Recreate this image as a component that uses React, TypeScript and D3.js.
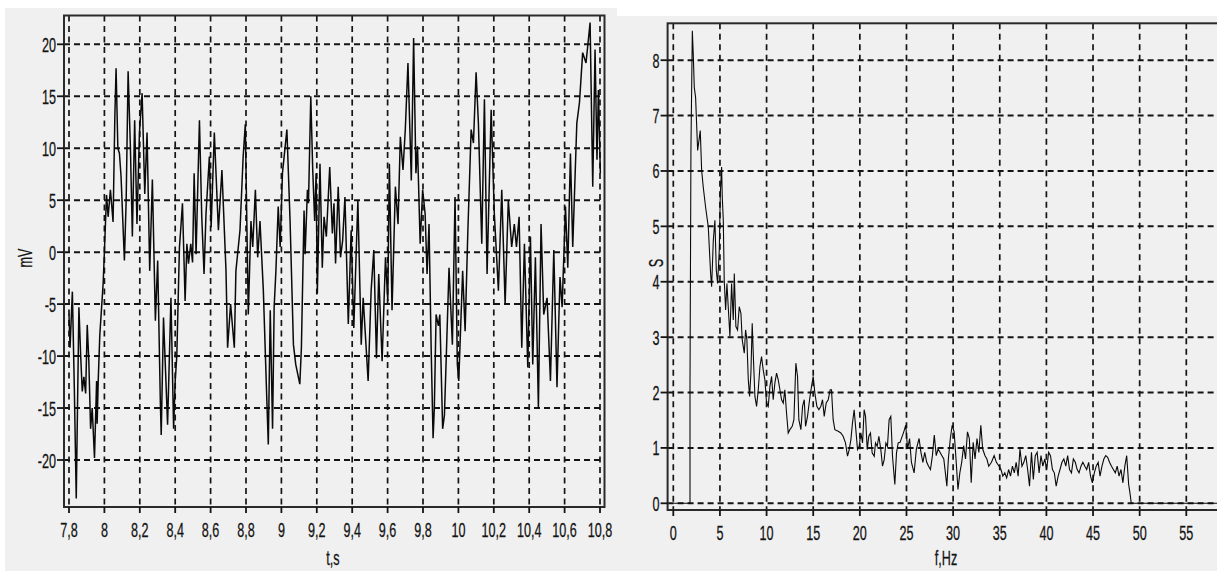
import React from 'react';
import * as d3 from 'd3';

// ---------- Data ----------
const timeS = [
  7.800, 7.806, 7.819, 7.830, 7.841, 7.848, 7.856, 7.866, 7.875, 7.884, 7.894, 7.903, 7.912, 7.922, 7.931, 7.944,
  7.956, 7.959, 7.965, 7.974, 7.993, 8.001, 8.012, 8.021, 8.034, 8.049, 8.059, 8.066, 8.076, 8.085, 8.094, 8.113,
  8.123, 8.134, 8.147, 8.158, 8.171, 8.184, 8.198, 8.213, 8.228, 8.241, 8.256, 8.271, 8.288, 8.301, 8.316, 8.321,
  8.334, 8.357, 8.376, 8.391, 8.400, 8.409, 8.424, 8.432, 8.441, 8.456, 8.466, 8.475, 8.488, 8.498, 8.507, 8.518,
  8.537, 8.550, 8.563, 8.574, 8.593, 8.603, 8.621, 8.644, 8.664, 8.687, 8.696, 8.713, 8.734, 8.743, 8.766, 8.784,
  8.796, 8.813, 8.828, 8.838, 8.853, 8.866, 8.879, 8.898, 8.918, 8.926, 8.937, 8.950, 8.959, 8.969, 8.982, 8.993,
  9.006, 9.031, 9.049, 9.068, 9.081, 9.104, 9.113, 9.128, 9.134, 9.147, 9.153, 9.166, 9.177, 9.188, 9.196, 9.203,
  9.218, 9.231, 9.241, 9.254, 9.273, 9.288, 9.297, 9.306, 9.321, 9.334, 9.346, 9.359, 9.378, 9.394, 9.409, 9.432,
  9.451, 9.462, 9.490, 9.507, 9.522, 9.537, 9.550, 9.569, 9.588, 9.601, 9.610, 9.625, 9.644, 9.659, 9.672, 9.687,
  9.700, 9.715, 9.734, 9.747, 9.760, 9.769, 9.784, 9.798,
  9.812, 9.823, 9.834, 9.846, 9.857, 9.864, 9.874, 9.887, 9.895, 9.911, 9.921, 9.932, 9.947, 9.966, 9.981, 9.994,
  10.002, 10.024, 10.038, 10.053, 10.072, 10.085, 10.100, 10.113, 10.132, 10.147, 10.162, 10.185, 10.203, 10.226,
  10.245, 10.264, 10.282, 10.301, 10.316, 10.328, 10.343, 10.358, 10.373, 10.392, 10.407, 10.420, 10.435, 10.452,
  10.467, 10.482, 10.501, 10.520, 10.539, 10.557, 10.574, 10.586, 10.605, 10.618, 10.633, 10.646, 10.669, 10.684,
  10.702, 10.721, 10.744, 10.759, 10.772, 10.783, 10.791, 10.802,
];
const voltageMV = [
  -6.0, -9.2, -3.8, -13.0, -23.7, -15.0, -5.3, -10.0, -13.4, -12.0, -13.6, -7.0, -10.5, -17.0, -15.0, -19.8,
  -12.4, -16.5, -12.4, -8.0, -3.0, 0.5, 5.5, 3.4, 6.0, 2.9, 13.0, 17.7, 10.0, 9.5, 7.3, -0.8,
  5.0, 17.4, 10.0, 1.5, 12.7, 2.7, 11.5, 15.3, 5.6, 11.5, -1.8, 7.0, -6.6, -0.8, -14.4, -17.6,
  -6.3, -16.6, -4.4, -17.0, -12.4, -10.0, 0.5, 2.4, 4.7, -4.7, 0.8, -1.1, 0.8, -1.0, 7.6, -0.2,
  12.7, 3.4, -2.1, 3.7, 9.2, 2.4, 11.5, 2.1, 7.9, -1.8, -9.2, -5.0, -9.2, -1.8, 2.1, 9.2,
  12.3, -6.0, 3.0, 0.5, 6.0, -0.5, 3.0, -3.7, -14.4, -18.5, -5.6, -17.0, -5.3, -1.8, 4.4, 0.5,
  7.6, 11.8, 3.0, -8.9, -10.8, -12.7, -9.2, 4.0, -0.2, 6.0, 4.7, 15.0, 7.9, 3.0, 7.6, -4.0,
  8.5, -1.5, 3.4, 1.5, 8.2, 1.8, 4.7, -1.1, 6.3, -0.5, 1.1, 5.3, -6.9, 2.1, -7.3, 5.0,
  -8.9, -4.4, -12.4, -3.7, 0.2, -10.2, -2.1, -10.5, -0.5, -4.7, 8.5, -5.6, 6.3, 2.7, 11.1, 7.9,
  11.8, 18.2, 6.9, 20.6, 7.6, 10.2, 0.8, 6.0,
  3.7, -2.1, 2.7, -9.2, -17.9, -15.0, -6.0, -7.1, -6.0, -17.0, -15.7, -9.8, -1.5, -8.9, 5.3, -10.8,
  -12.4, -1.8, -7.6, 1.8, 11.8, 10.5, 17.3, 12.4, 0.8, 14.7, -2.1, 13.7, 3.7, -3.7,
  6.0, -5.0, 5.0, 0.5, 2.7, 0.5, 3.4, -9.2, 0.8, -11.1, 1.5, -10.8, -0.5, -15.0,
  2.7, -6.0, -4.4, -12.4, 0.2, -13.0, -2.4, -5.3, 4.4, -1.5, 9.5, 0.5, 12.4, 14.4,
  19.2, 18.2, 22.1, 6.3, 19.5, 8.9, 15.6, 7.6,
];

const freqHz = [
  0, 1.79, 1.79, 1.89, 2.04, 2.14, 2.25, 2.39, 2.61, 2.75, 2.89, 3.04, 3.21, 3.46, 3.75, 4.0,
  4.11, 4.29, 4.46, 4.61, 4.75, 4.93, 5.04, 5.18, 5.25, 5.36, 5.46, 5.61, 5.75, 5.89, 6.07, 6.25,
  6.43, 6.54, 6.71, 6.89, 7.07, 7.25, 7.39, 7.61, 7.75, 7.89, 8.04, 8.18, 8.32, 8.46, 8.61, 8.75,
  8.93, 9.11, 9.29, 9.46, 9.64, 9.82, 10.0, 10.18, 10.36, 10.54, 10.71, 10.89, 11.07, 11.25, 11.43, 11.61,
  11.79, 11.96, 12.14, 12.32, 12.5, 12.75, 12.93, 13.14, 13.32, 13.46, 13.68, 13.86, 14.04, 14.18, 14.39, 14.61,
  14.82, 15.0, 15.18, 15.39, 15.61, 15.82, 16.0, 16.18, 16.39, 16.61, 16.82, 16.96, 17.14, 17.32, 17.68, 17.96,
  18.21, 18.46, 18.68, 18.86, 19.04, 19.21, 19.39, 19.57, 19.75, 19.93, 20.11, 20.29, 20.46, 20.61, 20.79, 20.96,
  21.14, 21.32, 21.54, 21.68, 21.86, 22.04, 22.25, 22.43, 22.61, 22.79, 22.96, 23.14, 23.32, 23.5, 23.75, 23.93,
  24.11, 24.31, 24.71, 24.92, 25.12, 25.33, 25.53, 25.82, 26.06, 26.35, 26.55, 26.76, 26.96, 27.17, 27.37, 27.57,
  27.78, 27.98, 28.19, 28.39, 28.59, 28.8, 29.0, 29.21, 29.33, 29.49, 29.7, 29.9, 30.11, 30.31, 30.52, 30.72,
  30.92, 31.13, 31.33, 31.54, 31.74, 31.94, 32.15, 32.35, 32.56, 32.76, 32.97, 33.17, 33.42, 33.62, 33.82, 34.11,
  34.4, 34.64, 34.93, 35.13, 35.33, 35.54, 35.74, 35.95, 36.15, 36.36, 36.56, 36.76, 36.97, 37.17, 37.38, 37.58,
  37.79, 37.99, 38.19, 38.4, 38.6, 38.81, 39.01, 39.22, 39.42, 39.62, 39.83, 40.03, 40.24, 40.44, 40.65, 40.85,
  41.05, 41.26, 41.46, 41.67, 41.87, 42.08, 42.28, 42.48, 42.69, 42.89, 43.1, 43.3, 43.5, 43.71, 43.91, 44.12,
  44.32, 44.53, 44.73, 44.93, 45.14, 45.34, 45.55, 45.75, 45.96, 46.16, 46.36, 46.57, 46.77, 46.98, 47.18, 47.39,
  47.59, 47.79, 48.0, 48.2, 48.41, 48.61, 48.82, 48.94, 49.1, 60,
];
const spectrumS = [
  0, 0, 2.11, 6.37, 8.53, 8.11, 7.51, 7.33, 6.37, 6.55, 6.73, 6.01, 5.71, 5.35, 4.99, 4.15,
  3.91, 4.75, 5.11, 4.21, 3.97, 4.57, 5.59, 6.07, 5.53, 5.11, 4.03, 3.49, 3.97, 3.55, 3.01, 3.97,
  3.31, 4.15, 3.19, 3.13, 3.55, 3.43, 2.95, 2.71, 3.13, 2.95, 2.23, 1.93, 2.35, 3.25, 2.53, 1.93,
  1.75, 2.05, 2.47, 2.65, 2.41, 2.23, 1.81, 1.75, 2.11, 2.29, 1.87, 2.17, 2.35, 2.23, 2.05, 1.87,
  1.81, 2.05, 1.63, 1.27, 1.33, 1.39, 1.51, 2.53, 2.29, 1.51, 1.33, 1.75, 1.87, 1.39, 1.57, 1.87,
  2.11, 2.29, 1.99, 1.75, 1.69, 1.75, 1.87, 1.57, 1.81, 1.87, 2.05, 2.05, 1.51, 1.33, 1.30, 1.27,
  1.21, 1.09, 0.85, 0.97, 1.15, 1.45, 1.69, 1.33, 0.97, 1.03, 1.27, 1.09, 1.69, 1.57, 0.97, 1.21,
  1.27, 0.91, 0.85, 1.09, 1.03, 1.21, 0.97, 0.67, 0.79, 1.09, 1.03, 1.51, 1.57, 0.85, 0.34, 0.91,
  1.09, 1.10, 1.29, 1.41, 0.98, 1.17, 0.74, 0.55, 0.98, 1.17, 0.92, 0.74, 0.92, 0.74, 0.67, 0.61,
  0.86, 1.23, 0.86, 0.98, 0.92, 0.86, 0.80, 0.49, 0.31, 0.80, 1.17, 1.41, 1.29, 0.80, 0.25, 0.55,
  0.74, 1.04, 0.80, 1.29, 1.17, 0.37, 1.10, 0.80, 1.17, 0.92, 1.41, 0.98, 0.86, 0.80, 0.67, 0.74,
  0.86, 0.74, 0.67, 0.61, 0.49, 0.55, 0.46, 0.61, 0.49, 0.67, 0.55, 0.74, 0.49, 0.98, 0.67, 0.74,
  0.86, 0.61, 0.31, 0.92, 0.43, 0.86, 0.92, 0.55, 0.86, 0.67, 0.80, 0.61, 0.92, 0.86, 0.61, 0.55,
  0.31, 0.49, 0.61, 0.74, 0.80, 0.67, 0.86, 0.61, 0.55, 0.80, 0.74, 0.61, 0.55, 0.67, 0.74, 0.67,
  0.61, 0.74, 0.49, 0.37, 0.55, 0.67, 0.74, 0.49, 0.67, 0.80, 0.86, 0.83, 0.74, 0.67, 0.61, 0.55,
  0.67, 0.49, 0.61, 0.37, 0.67, 0.86, 0.34, 0.21, 0, 0,
];

const leftXTicks = [7.8, 8, 8.2, 8.4, 8.6, 8.8, 9, 9.2, 9.4, 9.6, 9.8, 10, 10.2, 10.4, 10.6, 10.8];
const leftYTicks = [-20, -15, -10, -5, 0, 5, 10, 15, 20];
const rightXTicks = [0, 5, 10, 15, 20, 25, 30, 35, 40, 45, 50, 55];
const rightYTicks = [0, 1, 2, 3, 4, 5, 6, 7, 8];

// ---------- Styling ----------
const FONT = "'Liberation Sans', Arial, sans-serif";
const SX = 0.6;
const FS = 21;
const INK = '#141414';
const fmt = (v: number) => String(v).replace('.', ',');

type TxtProps = { x: number; y: number; anchor?: string; rotate?: boolean; children: React.ReactNode };
function Txt({ x, y, anchor = 'middle', rotate = false, children }: TxtProps) {
  return (
    <text
      transform={`translate(${x},${y})${rotate ? ' rotate(-90)' : ''} scale(${SX},1)`}
      textAnchor={anchor as any}
      fontSize={FS}
      fontFamily={FONT}
      fill={INK}
      stroke={INK}
      strokeWidth={0.3}
    >
      {children}
    </text>
  );
}

type PanelProps = {
  id: string;
  frame: { l: number; t: number; r: number; b: number };
  x: d3.ScaleLinear<number, number>;
  y: d3.ScaleLinear<number, number>;
  xTicks: number[];
  yTicks: number[];
  xs: number[];
  ys: number[];
  xLabelY: number;
  lineWidth: number;
  xTitle: string;
  xTitlePos: [number, number];
  yTitle: string;
  yTitlePos: [number, number];
};

function Panel(p: PanelProps) {
  const { l, t, r, b } = p.frame;
  const pts = p.xs.map((v, i) => [v, p.ys[i]] as [number, number]);
  const line = d3
    .line<[number, number]>()
    .x((d) => p.x(d[0]))
    .y((d) => p.y(d[1]));
  return (
    <g>
      <defs>
        <clipPath id={p.id}>
          <rect x={l} y={t} width={r - l} height={b - t} />
        </clipPath>
      </defs>
      {/* grid */}
      {p.yTicks.map((v) => (
        <line key={'gy' + v} x1={l} x2={r} y1={p.y(v)} y2={p.y(v)} stroke={INK} strokeWidth={2} strokeDasharray="6,4" />
      ))}
      {p.xTicks.map((v) => (
        <line key={'gx' + v} x1={p.x(v)} x2={p.x(v)} y1={t} y2={b} stroke={INK} strokeWidth={1.7} strokeDasharray="6,4.5" />
      ))}
      {/* data */}
      <path d={line(pts) || ''} fill="none" stroke="#0a0a0a" strokeWidth={p.lineWidth} clipPath={`url(#${p.id})`} />
      {/* frame */}
      <rect x={l} y={t} width={r - l} height={b - t} fill="none" stroke="#2a2a2a" strokeWidth={2} />
      {/* ticks */}
      {p.yTicks.map((v) => (
        <g key={'ty' + v}>
          <line x1={l - 7} x2={l} y1={p.y(v)} y2={p.y(v)} stroke={INK} strokeWidth={1.8} />
          <Txt x={l - 8} y={p.y(v) + 7.5} anchor="end">{fmt(v)}</Txt>
        </g>
      ))}
      {p.xTicks.map((v) => (
        <g key={'tx' + v}>
          <line x1={p.x(v)} x2={p.x(v)} y1={b} y2={b + 6} stroke={INK} strokeWidth={1.8} />
          <Txt x={p.x(v)} y={p.xLabelY}>{fmt(v)}</Txt>
        </g>
      ))}
      <Txt x={p.xTitlePos[0]} y={p.xTitlePos[1]}>{p.xTitle}</Txt>
      <Txt x={p.yTitlePos[0]} y={p.yTitlePos[1]} rotate>{p.yTitle}</Txt>
    </g>
  );
}

export default function App() {
  const xL = d3.scaleLinear().domain([7.8, 10.8]).range([69, 600]);
  const yL = d3.scaleLinear().domain([-20, 20]).range([460, 44.3]);
  const xR = d3.scaleLinear().domain([0, 55]).range([673.3, 1186.3]);
  const yR = d3.scaleLinear().domain([0, 8]).range([503.3, 60.2]);
  return (
    <svg
      width={1217}
      height={571}
      style={{ position: 'absolute', left: 0, top: 0, background: '#ffffff' }}
    >
      <rect x={5} y={8} width={612} height={563} fill="#f0f0f0" />
      <rect x={617} y={16} width={600} height={555} fill="#f0f0f0" />
      <Panel
        id="clipL"
        frame={{ l: 64, t: 15.5, r: 604.5, b: 507 }}
        x={xL}
        y={yL}
        xTicks={leftXTicks}
        yTicks={leftYTicks}
        xs={timeS}
        ys={voltageMV}
        xLabelY={537}
        lineWidth={1.5}
        xTitle="t,s"
        xTitlePos={[333, 565]}
        yTitle="mV"
        yTitlePos={[32, 258]}
      />
      <Panel
        id="clipR"
        frame={{ l: 667.6, t: 23.3, r: 1219, b: 510 }}
        x={xR}
        y={yR}
        xTicks={rightXTicks}
        yTicks={rightYTicks}
        xs={freqHz}
        ys={spectrumS}
        xLabelY={540}
        lineWidth={1.1}
        xTitle="f,Hz"
        xTitlePos={[946, 565]}
        yTitle="S"
        yTitlePos={[663, 263]}
      />
    </svg>
  );
}
